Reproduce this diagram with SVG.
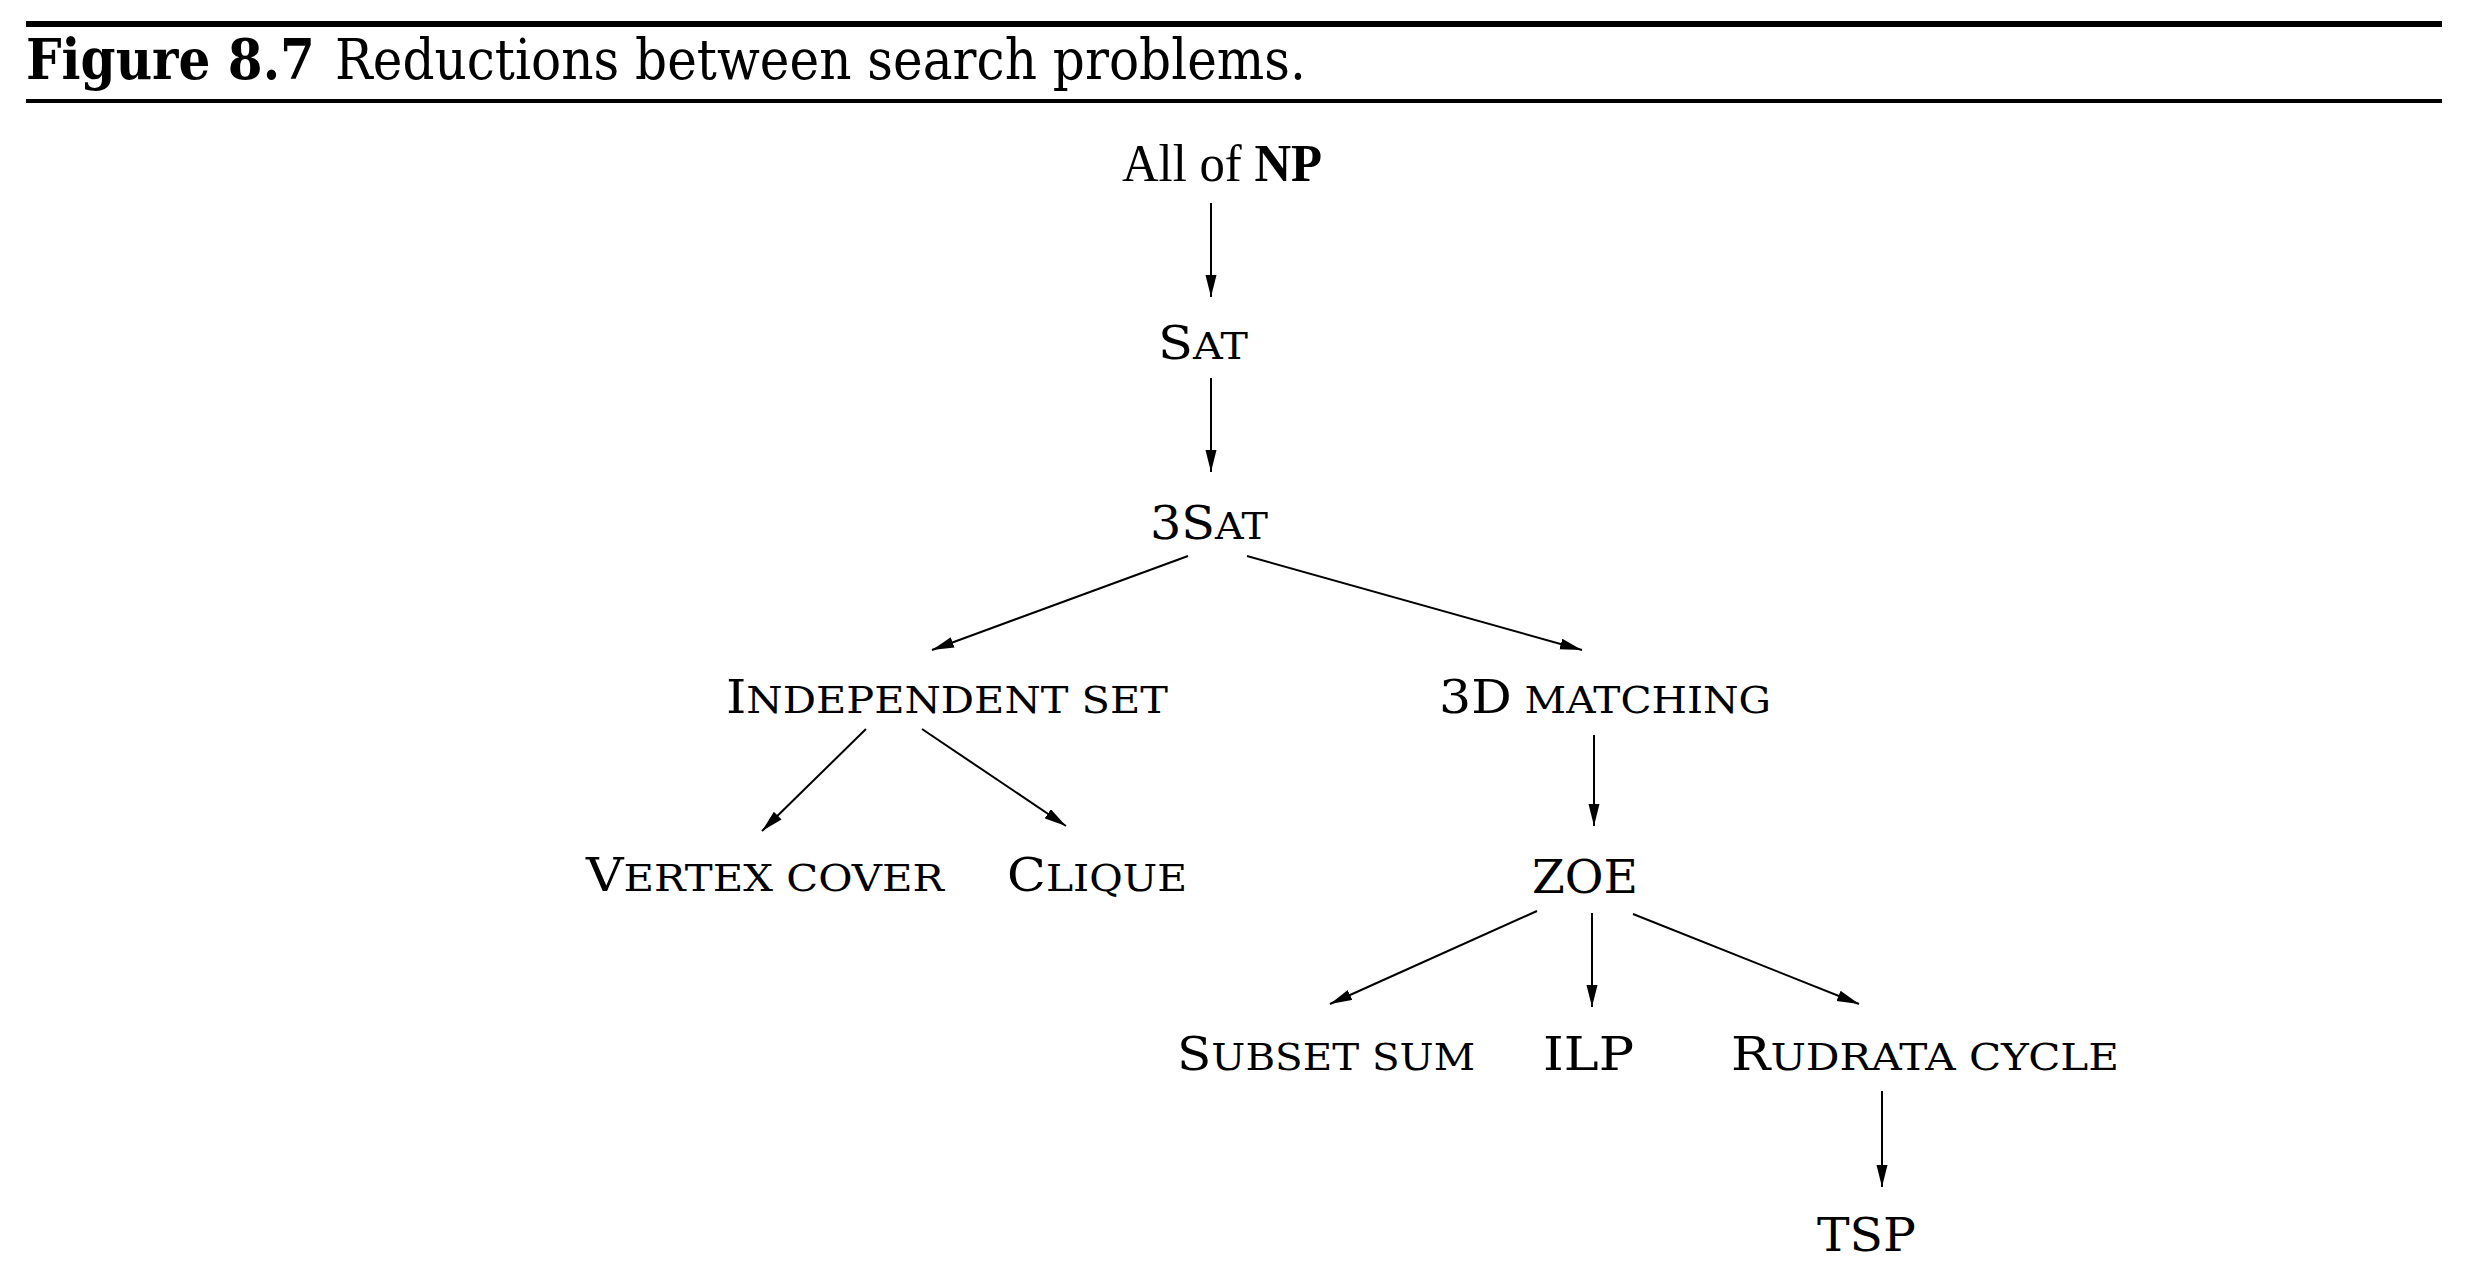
<svg xmlns="http://www.w3.org/2000/svg" width="2468" height="1288" viewBox="0 0 2468 1288">
<style>
.t{font-family:"DejaVu Serif","Liberation Serif",serif;font-size:46px;fill:#000}
.sc{font-size:37px}
.ti{font-family:"DejaVu Serif","Liberation Serif",serif;font-size:56px;fill:#000}
.tm{font-family:"Liberation Serif","DejaVu Serif",serif;font-size:52px;fill:#000}
.e{stroke:#000;stroke-width:2;fill:none;marker-end:url(#ah)}
</style>
<defs>
<marker id="ah" markerUnits="userSpaceOnUse" markerWidth="24" markerHeight="12" refX="22" refY="5.5" orient="auto">
<path d="M0,0 L22,5.5 L0,11 Z" fill="#000"/>
</marker>
</defs>
<rect width="2468" height="1288" fill="#fff"/>
<g id="header">
<rect x="26" y="21" width="2416" height="6" fill="#000"/>
<rect x="26" y="99" width="2416" height="4" fill="#000"/>
<text class="ti" x="26" y="79"><tspan font-weight="bold" textLength="289" lengthAdjust="spacingAndGlyphs">Figure 8.7</tspan><tspan x="335" textLength="971" lengthAdjust="spacingAndGlyphs">Reductions between search problems.</tspan></text>
</g>
<g id="connectors">
<line class="e" x1="1211" y1="203" x2="1211" y2="297"/>
<line class="e" x1="1211" y1="378" x2="1211" y2="472"/>
<line class="e" x1="1188" y1="556" x2="932" y2="650"/>
<line class="e" x1="1247" y1="556" x2="1582" y2="650"/>
<line class="e" x1="866" y1="729" x2="762" y2="831"/>
<line class="e" x1="922" y1="729" x2="1066" y2="826"/>
<line class="e" x1="1594" y1="735" x2="1594" y2="826"/>
<line class="e" x1="1537" y1="911" x2="1330" y2="1004"/>
<line class="e" x1="1592" y1="913" x2="1592" y2="1007"/>
<line class="e" x1="1633" y1="914" x2="1859" y2="1004"/>
<line class="e" x1="1882" y1="1091" x2="1882" y2="1187"/>
</g>
<g id="n-allnp"><text class="tm" x="1122" y="181" textLength="200" lengthAdjust="spacingAndGlyphs">All of <tspan font-weight="bold">NP</tspan></text></g>
<g id="n-sat"><text class="t" x="1158" y="359" textLength="90" lengthAdjust="spacingAndGlyphs">S<tspan class="sc">AT</tspan></text></g>
<g id="n-3sat"><text class="t" x="1150" y="539" textLength="118" lengthAdjust="spacingAndGlyphs">3S<tspan class="sc">AT</tspan></text></g>
<g id="n-indset"><text class="t" x="726" y="713" textLength="442" lengthAdjust="spacingAndGlyphs">I<tspan class="sc">NDEPENDENT SET</tspan></text></g>
<g id="n-3dm"><text class="t" x="1439" y="713" textLength="332" lengthAdjust="spacingAndGlyphs">3D<tspan class="sc"> MATCHING</tspan></text></g>
<g id="n-vc"><text class="t" x="586" y="891" textLength="358" lengthAdjust="spacingAndGlyphs">V<tspan class="sc">ERTEX COVER</tspan></text></g>
<g id="n-clique"><text class="t" x="1007" y="891" textLength="180" lengthAdjust="spacingAndGlyphs">C<tspan class="sc">LIQUE</tspan></text></g>
<g id="n-zoe"><text class="t" x="1532" y="893" textLength="106" lengthAdjust="spacingAndGlyphs">ZOE</text></g>
<g id="n-subsetsum"><text class="t" x="1177" y="1070" textLength="298" lengthAdjust="spacingAndGlyphs">S<tspan class="sc">UBSET SUM</tspan></text></g>
<g id="n-ilp"><text class="t" x="1543" y="1070" textLength="91" lengthAdjust="spacingAndGlyphs">ILP</text></g>
<g id="n-rudrata"><text class="t" x="1731" y="1070" textLength="388" lengthAdjust="spacingAndGlyphs">R<tspan class="sc">UDRATA CYCLE</tspan></text></g>
<g id="n-tsp"><text class="t" x="1817" y="1251" textLength="99" lengthAdjust="spacingAndGlyphs">TSP</text></g>
</svg>
